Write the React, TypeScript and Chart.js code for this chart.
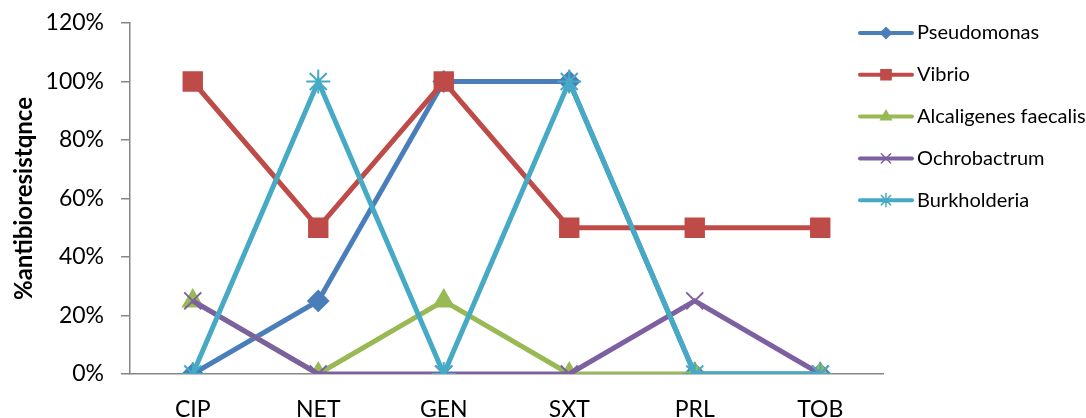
import React, { useEffect, useRef } from "react";
import { Chart, registerables } from "chart.js";
import { drawPoint } from "chart.js/helpers";

Chart.register(...registerables);

const categories = ["CIP", "NET", "GEN", "SXT", "PRL", "TOB"];
const seriesNames = ["Pseudomonas", "Vibrio", "Alcaligenes faecalis", "Ochrobactrum", "Burkholderia"];
const pseudomonas = [0, 0.25, 1, 1, 0, 0];
const vibrio = [1, 0.5, 1, 0.5, 0.5, 0.5];
const alcaligenes = [0.25, 0, 0.25, 0, 0, 0];
const ochrobactrum = [0.25, 0, 0, 0, 0.25, 0];
const burkholderia = [0, 1, 0, 1, 0, 0];
const yTicks = [0, 0.2, 0.4, 0.6, 0.8, 1.0, 1.2];

const colors = ["#4A7EBB", "#BE4B48", "#98B954", "#7D60A0", "#46AAC5"];
const markers = ["rectRot", "rect", "triangle", "crossRot", "star"];
const radii = [10, 13, 11, 12, 12];
const values = [pseudomonas, vibrio, alcaligenes, ochrobactrum, burkholderia];

const FONT = "Lato, 'Open Sans', sans-serif";

const legendPlugin = {
  id: "excelLegend",
  afterDraw(chart: any) {
    const ctx = chart.ctx;
    ctx.save();
    const x0 = 860;
    const x1 = 912;
    const yStart = 33;
    const step = 41.8;
    seriesNames.forEach((name, i) => {
      const y = yStart + i * step;
      ctx.strokeStyle = colors[i];
      ctx.lineWidth = 4;
      ctx.lineCap = "round";
      ctx.beginPath();
      ctx.moveTo(x0, y);
      ctx.lineTo(x1, y);
      ctx.stroke();
      ctx.fillStyle = colors[i];
      ctx.strokeStyle = colors[i];
      ctx.lineWidth = 1.5;
      drawPoint(ctx, { pointStyle: markers[i], radius: radii[i] * 0.55, rotation: 0, borderWidth: 1.5 }, (x0 + x1) / 2, y);
      ctx.fillStyle = "#000";
      ctx.font = `20px ${FONT}`;
      ctx.textBaseline = "middle";
      ctx.textAlign = "left";
      ctx.fillText(name, 917, y);
    });
    ctx.restore();
  },
};

export default function App() {
  const ref = useRef<HTMLCanvasElement>(null);
  useEffect(() => {
    document.body.style.margin = "0";
    const chart = new Chart(ref.current!, {
      type: "line",
      data: {
        labels: categories,
        datasets: seriesNames.map((name, i) => ({
          label: name,
          data: values[i],
          borderColor: colors[i],
          backgroundColor: colors[i],
          borderWidth: 5,
          pointStyle: markers[i] as any,
          pointRadius: radii[i],
          pointBorderWidth: 2,
          pointBorderColor: colors[i],
          pointBackgroundColor: colors[i],
          tension: 0,
          fill: false,
          order: 5 - i,
        })),
      },
      options: {
        responsive: false,
        animation: false,
        layout: { padding: { left: 0, right: 203, top: 23, bottom: 0 } },
        plugins: { legend: { display: false }, tooltip: { enabled: false } },
        scales: {
          x: {
            offset: true,
            grid: { display: false },
            border: { display: true, color: "#868686", width: 1.5 },
            ticks: { color: "#000", font: { family: FONT, size: 23 }, padding: 14, maxRotation: 0 },
            afterFit: (s: any) => { s.height = 44; s.paddingLeft = 0; s.paddingRight = 0; },
          },
          y: {
            min: 0,
            max: 1.2,
            afterBuildTicks: (s: any) => { s.ticks = yTicks.map((v) => ({ value: v })); },
            grid: { display: true, drawOnChartArea: false, drawTicks: true, tickLength: 9, color: "#868686", lineWidth: 1.5 },
            border: { display: true, color: "#868686", width: 1.5 },
            ticks: {
              color: "#000",
              font: { family: FONT, size: 23 },
              padding: 17,
              callback: (v: any) => `${Math.round(Number(v) * 100)}%`,
            },
            title: {
              display: true,
              text: "%antibioresistqnce",
              color: "#000",
              font: { family: FONT, size: 24, weight: "bold" },
              padding: { top: 10, bottom: 0 },
            },
            afterFit: (s: any) => { s.width = 130; s.paddingTop = 0; s.paddingBottom = 0; },
          },
        },
      },
      plugins: [legendPlugin],
    });
    return () => chart.destroy();
  }, []);
  return <canvas ref={ref} width={1086} height={418} style={{ display: "block" }} />;
}
